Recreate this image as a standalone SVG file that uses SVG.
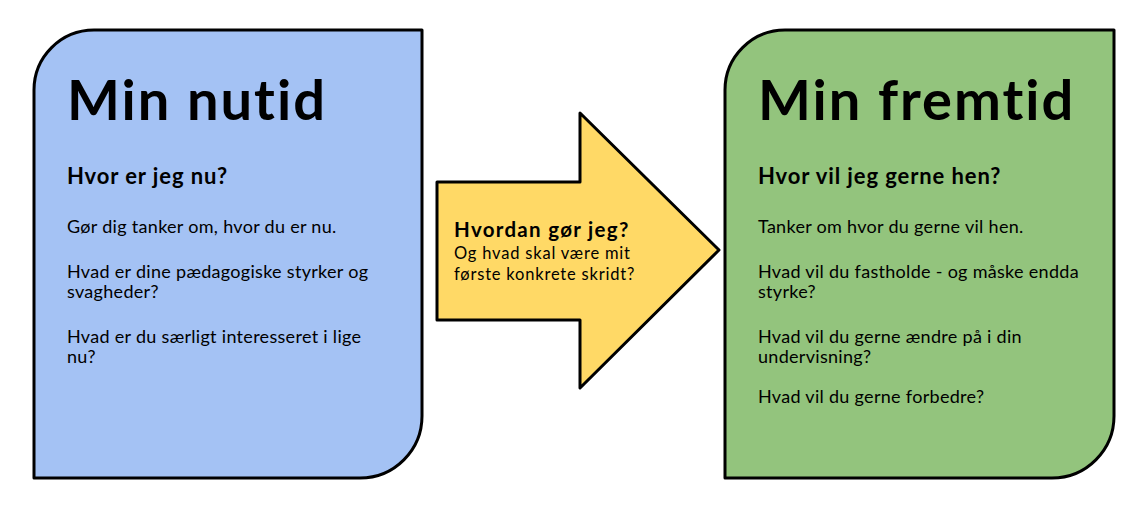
<svg xmlns="http://www.w3.org/2000/svg" width="1144" height="516" viewBox="0 0 1144 516">
<style>
.box{stroke:#000;stroke-width:3;stroke-linejoin:round}
.t{font-family:Lato,"Liberation Sans",sans-serif;fill:#000;font-variant-ligatures:none;font-feature-settings:"liga" 0,"clig" 0}
.title{font-size:56px;font-weight:bold;letter-spacing:2px}
.h{font-size:22px;font-weight:bold;letter-spacing:0.9px}
.b{font-size:18px;letter-spacing:0.3px}
.ah{font-size:20.5px;font-weight:bold;letter-spacing:1.3px}
.ab{font-size:16.5px;letter-spacing:0.8px}
</style>
<rect width="1144" height="516" fill="#fff"/>
<g id="nutid">
<path class="box" fill="#a4c2f4" d="M94,30 H422 V416 A62,62 0 0 1 360,478 H34 V90 A60,60 0 0 1 94,30 Z"/>
<text class="t title" x="67" y="120">Min nutid</text>
<text class="t h" x="67" y="184">Hvor er jeg nu?</text>
<text class="t b" x="67" y="233">Gør dig tanker om, hvor du er nu.</text>
<text class="t b" x="67" y="278">Hvad er dine pædagogiske styrker og</text>
<text class="t b" x="67" y="298">svagheder?</text>
<text class="t b" x="67" y="343">Hvad er du særligt interesseret i lige</text>
<text class="t b" x="67" y="363">nu?</text>
</g>
<g id="connectors">
<g id="arrow">
<path class="box" fill="#ffd966" d="M437,182 H580 V113 L719,250 L580,388 V320 H437 Z"/>
<text class="t ah" x="454" y="237">Hvordan gør jeg?</text>
<text class="t ab" x="454" y="259">Og hvad skal være mit</text>
<text class="t ab" x="454" y="280">første konkrete skridt?</text>
</g>
</g>
<g id="fremtid">
<path class="box" fill="#93c47d" d="M785,30 H1114 V416 A62,62 0 0 1 1052,478 H725 V90 A60,60 0 0 1 785,30 Z"/>
<text class="t title" x="758" y="120">Min fremtid</text>
<text class="t h" x="758" y="184">Hvor vil jeg gerne hen?</text>
<text class="t b" x="758" y="233">Tanker om hvor du gerne vil hen.</text>
<text class="t b" x="758" y="278">Hvad vil du fastholde - og måske endda</text>
<text class="t b" x="758" y="298">styrke?</text>
<text class="t b" x="758" y="343">Hvad vil du gerne ændre på i din</text>
<text class="t b" x="758" y="363">undervisning?</text>
<text class="t b" x="758" y="403">Hvad vil du gerne forbedre?</text>
</g>
</svg>
